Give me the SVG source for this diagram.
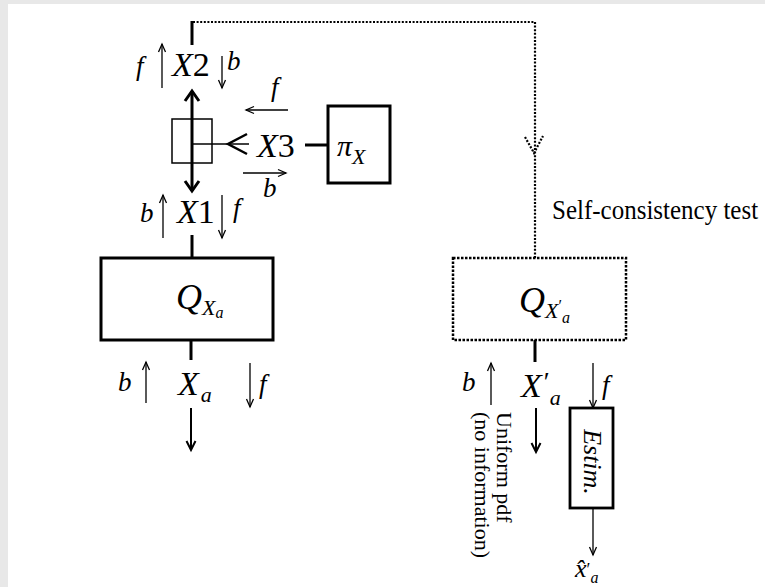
<svg xmlns="http://www.w3.org/2000/svg" width="765" height="587" viewBox="0 0 765 587" font-family="'Liberation Serif','Times New Roman','DejaVu Serif',serif">
<defs>
<style>
text{font-family:"Liberation Serif","Times New Roman","DejaVu Serif",serif;fill:#000}
.m{font-style:italic}
.big{font-size:34px}
.lab{font-size:27px}
.sub{font-size:22px}
.ss{font-size:16px}
.rm{font-size:22px}
.thick{stroke:#000;stroke-width:3;fill:none}
.mid{stroke:#000;stroke-width:2;fill:none}
.thin{stroke:#000;stroke-width:1.3;fill:none}
.dot{stroke:#000;stroke-width:2.2;fill:none;stroke-dasharray:2 1.6}
.box{fill:#fff;stroke:#000;stroke-width:3}
.dbox{fill:#fff;stroke:#000;stroke-width:2.5;stroke-dasharray:2.5 1.5}
</style>
<marker id="ah" markerUnits="userSpaceOnUse" refX="0" refY="0" markerWidth="12" markerHeight="10" orient="auto-start-reverse" overflow="visible">
<path d="M-8,-3.5 L0,0 L-8,3.5" fill="none" stroke="#000" stroke-width="1.3"/>
</marker>
<marker id="ahM" markerUnits="userSpaceOnUse" refX="0" refY="0" markerWidth="12" markerHeight="10" orient="auto-start-reverse" overflow="visible">
<path d="M-9,-4.5 L0,0 L-9,4.5" fill="none" stroke="#000" stroke-width="2"/>
</marker>
<marker id="ahB" markerUnits="userSpaceOnUse" refX="0" refY="0" markerWidth="14" markerHeight="16" orient="auto-start-reverse" overflow="visible">
<path d="M-10,-7 L0,0 L-10,7" fill="none" stroke="#000" stroke-width="3"/>
</marker>
</defs>
<rect x="0" y="0" width="765" height="587" fill="#e8e8e8"/>
<rect x="8" y="4" width="757" height="583" fill="#fff"/>

<g id="connectors">
<line class="thick" x1="192" y1="21" x2="192" y2="45"/>
<path class="dot" d="M193,22 H535 V258"/>
<path class="dot" d="M525,137 L534,153 L543,136"/>
<line class="thick" x1="192" y1="91" x2="192" y2="191" marker-start="url(#ahB)" marker-end="url(#ahB)"/>
<line class="thin" x1="192" y1="144" x2="249" y2="144"/>
<path d="M247,134 L228,144 L247,154" fill="none" stroke="#000" stroke-width="2.5"/>
<line class="thick" x1="305" y1="145" x2="328" y2="145"/>
<line class="thick" x1="192" y1="235" x2="192" y2="258"/>
<line class="thick" x1="191" y1="340" x2="191" y2="360"/>
<line class="mid" x1="191" y1="408" x2="191" y2="450" marker-end="url(#ahM)"/>
<line class="thick" x1="535" y1="340" x2="535" y2="362"/>
<line class="mid" x1="536" y1="408" x2="536" y2="452" marker-end="url(#ahM)"/>
<line class="thin" x1="593" y1="363" x2="593" y2="408" marker-end="url(#ah)"/>
<line class="thin" x1="593" y1="508" x2="593" y2="555" marker-end="url(#ah)"/>
<line class="thin" x1="162" y1="88" x2="162" y2="44" marker-end="url(#ah)"/>
<line class="thin" x1="222" y1="56" x2="222" y2="88" marker-end="url(#ah)"/>
<line class="thin" x1="288" y1="110" x2="246" y2="110" marker-end="url(#ah)"/>
<line class="thin" x1="243" y1="173" x2="286" y2="173" marker-end="url(#ah)"/>
<line class="thin" x1="163" y1="238" x2="163" y2="195" marker-end="url(#ah)"/>
<line class="thin" x1="222" y1="195" x2="222" y2="238" marker-end="url(#ah)"/>
<line class="thin" x1="146" y1="403" x2="146" y2="362" marker-end="url(#ah)"/>
<line class="thin" x1="250" y1="363" x2="250" y2="407" marker-end="url(#ah)"/>
<line class="thin" x1="491" y1="405" x2="491" y2="363" marker-end="url(#ah)"/>
</g>

<g id="X2">
<text class="m lab" x="136" y="75">f</text>
<text class="big" x="172" y="76"><tspan class="m">X</tspan>2</text>
<text class="m lab" x="227" y="70">b</text>
</g>

<g id="junction">
<rect x="172" y="119" width="40" height="44" fill="none" stroke="#000" stroke-width="1.5"/>
</g>

<g id="X3">
<text class="m lab" x="271" y="96">f</text>
<text class="big" x="257" y="157"><tspan class="m">X</tspan>3</text>
<text class="m lab" x="263" y="197">b</text>
</g>

<g id="piX">
<rect class="box" x="328" y="106" width="62" height="77"/>
<text x="337" y="156"><tspan class="m" style="font-size:30px">π</tspan><tspan class="m sub" dy="8">X</tspan></text>
</g>

<g id="X1">
<text class="m lab" x="140" y="222">b</text>
<text class="big" x="177" y="223"><tspan class="m">X</tspan>1</text>
<text class="m lab" x="233" y="217">f</text>
</g>

<g id="QXa">
<rect class="box" x="101" y="258" width="172" height="82"/>
<text x="176" y="309"><tspan class="m" style="font-size:36px">Q</tspan><tspan class="m sub" dy="6">X</tspan><tspan class="m ss" dy="3">a</tspan></text>
</g>

<g id="Xa">
<text class="m lab" x="118" y="391">b</text>
<text x="178" y="395"><tspan class="m big">X</tspan><tspan class="m sub" dx="2" dy="7">a</tspan></text>
<text class="m lab" x="259" y="393">f</text>
</g>

<g id="QXap">
<rect class="dbox" x="453" y="258" width="173" height="82"/>
<text x="519" y="312"><tspan class="m" style="font-size:36px">Q</tspan><tspan class="m sub" dy="6">X</tspan><tspan class="ss" dy="-7">′</tspan><tspan class="m ss" dy="12">a</tspan></text>
</g>

<g id="Xap">
<text x="521" y="397"><tspan class="m big">X</tspan><tspan class="lab" dx="2" dy="-6">′</tspan><tspan class="m sub" dy="14">a</tspan></text>
<text class="m lab" x="462" y="391">b</text>
<text class="m lab" x="602" y="394">f</text>
<text class="rm" transform="translate(497,412) rotate(90)">Uniform pdf</text>
<text class="rm" transform="translate(475,412) rotate(90)">(no information)</text>
</g>

<g id="Estim">
<rect x="570" y="408" width="43" height="100" fill="#fff" stroke="#000" stroke-width="2.8"/>
<text class="m" style="font-size:26px" text-anchor="middle" transform="translate(584,462) rotate(90)">Estim.</text>
</g>

<g id="xhat">
<text x="575" y="577"><tspan class="m" style="font-size:26px">x̂</tspan><tspan style="font-size:18px" dy="-1">′</tspan><tspan class="m ss" dy="7">a</tspan></text>
</g>

<g id="selftest">
<text style="font-size:25px" transform="translate(552,219) scale(1,1.12)">Self-consistency test</text>
</g>
</svg>
